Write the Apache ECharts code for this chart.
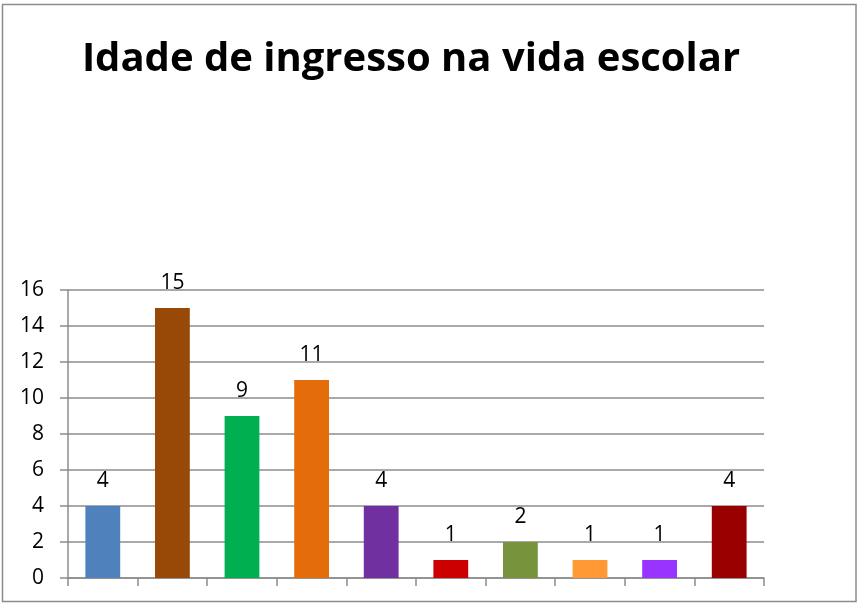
<!DOCTYPE html>
<html>
<head>
<meta charset="utf-8">
<script src="https://cdn.jsdelivr.net/npm/echarts@6/dist/echarts.min.js"></script>
<style>
  html, body { margin: 0; padding: 0; background: #fff; }
  #chart { width: 857px; height: 603px; }
</style>
</head>
<body>
<div id="chart"></div>
<script>
// Age groups (axis labels are not shown in this view)
const categories = ['c1', 'c2', 'c3', 'c4', 'c5', 'c6', 'c7', 'c8', 'c9', 'c10'];
// Number of students per group
const values = [4, 15, 9, 11, 4, 1, 2, 1, 1, 4];
// One fill colour per bar
const barColors = ['#4F81BD', '#984807', '#00B050', '#E46C0A', '#7030A0',
                   '#CC0000', '#77933C', '#FF9933', '#9933FF', '#990000'];
// Value axis ticks
const yTicks = [0, 2, 4, 6, 8, 10, 12, 14, 16];

const chart = echarts.init(document.getElementById('chart'), null, { renderer: 'canvas' });

chart.setOption({
  animation: false,
  backgroundColor: '#ffffff',
  title: {
    text: 'Idade de ingresso na vida escolar',
    left: 406,
    textAlign: 'center',
    top: 35,
    textStyle: {
      fontFamily: 'Open Sans',
      fontWeight: 'bold',
      fontSize: 40,
      color: '#000'
    }
  },
  graphic: [{
    type: 'rect',
    shape: { x: 2.5, y: 4.5, width: 853.5, height: 597 },
    style: { fill: 'none', stroke: '#8c8c8c', lineWidth: 1.5 },
    silent: true
  }],
  grid: { left: 68, right: 93, top: 290, bottom: 25, containLabel: false },
  xAxis: {
    type: 'category',
    data: categories,
    boundaryGap: true,
    axisLine: { show: true, lineStyle: { color: '#8c8c8c', width: 1.5 } },
    axisTick: { show: true, alignWithLabel: false, length: 8, lineStyle: { color: '#8c8c8c', width: 1.5 } },
    axisLabel: { show: false },
    splitLine: { show: false }
  },
  yAxis: {
    type: 'value',
    min: yTicks[0],
    max: yTicks[yTicks.length - 1],
    interval: yTicks[1] - yTicks[0],
    axisLine: { show: true, lineStyle: { color: '#8c8c8c', width: 1.5 } },
    axisTick: { show: true, inside: false, length: 8, lineStyle: { color: '#8c8c8c', width: 1.5 } },
    axisLabel: {
      margin: 24,
      fontFamily: 'Open Sans',
      fontSize: 21,
      color: '#000'
    },
    splitLine: { show: true, lineStyle: { color: '#8c8c8c', width: 1.5 } }
  },
  series: [{
    type: 'bar',
    data: values.map((v, i) => ({ value: v, itemStyle: { color: barColors[i] } })),
    barWidth: '50%',
    label: {
      show: true,
      position: 'top',
      distance: 14,
      fontFamily: 'Open Sans',
      fontSize: 21,
      color: '#000'
    }
  }]
});
</script>
</body>
</html>
